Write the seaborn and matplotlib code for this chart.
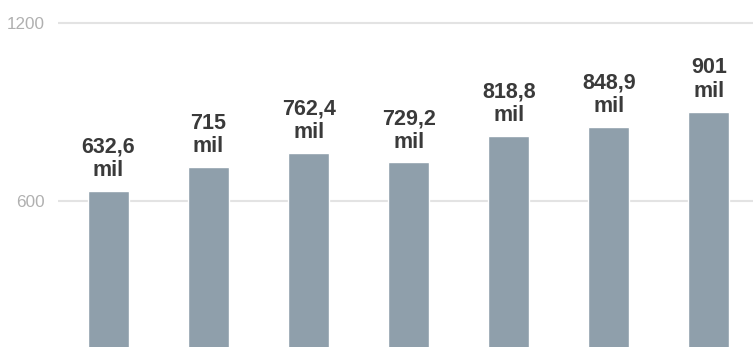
import matplotlib
matplotlib.use("Agg")
import matplotlib.pyplot as plt
import seaborn as sns
import pandas as pd

categories = ["A", "B", "C", "D", "E", "F", "G"]
values = [632.6, 715, 762.4, 729.2, 818.8, 848.9, 901]
bar_labels = ["632,6\nmil", "715\nmil", "762,4\nmil", "729,2\nmil", "818,8\nmil", "848,9\nmil", "901\nmil"]
y_ticks = [600, 1200]

sns.set_theme(style="white")
plt.rcParams["font.family"] = ["Liberation Sans", "DejaVu Sans"]

df = pd.DataFrame({"cat": categories, "val": values})

fig = plt.figure(figsize=(7.53, 3.47), dpi=100)
ax = fig.add_axes([58 / 753, 0, (753 - 58) / 753, 1])

sns.barplot(data=df, x="cat", y="val", order=categories, color="#8f9fab",
            saturation=1, width=0.41, ax=ax, zorder=3)

ax.set_ylim(106, 1277.7)
ax.set_xlim(-0.504, 6.44)
ax.set_yticks(y_ticks)
ax.set_yticklabels([str(t) for t in y_ticks], color="#b0b0b0", fontsize=12.3)
ax.tick_params(axis="y", length=0, pad=9.5)
ax.set_xticks([])
ax.set_xlabel("")
ax.set_ylabel("")
for s in ax.spines.values():
    s.set_visible(False)
for t in y_ticks:
    ax.axhline(t, color="#e3e3e3", lw=1.5, zorder=1)

for p, lab in zip(ax.patches, bar_labels):
    ax.annotate(lab, (p.get_x() + p.get_width() / 2, p.get_height()),
                xytext=(0, 7), textcoords="offset points", ha="center", va="bottom",
                fontsize=15.5, fontweight="bold", color="#3a3a3a", linespacing=1.15)

fig.savefig("out.png", dpi=100)
